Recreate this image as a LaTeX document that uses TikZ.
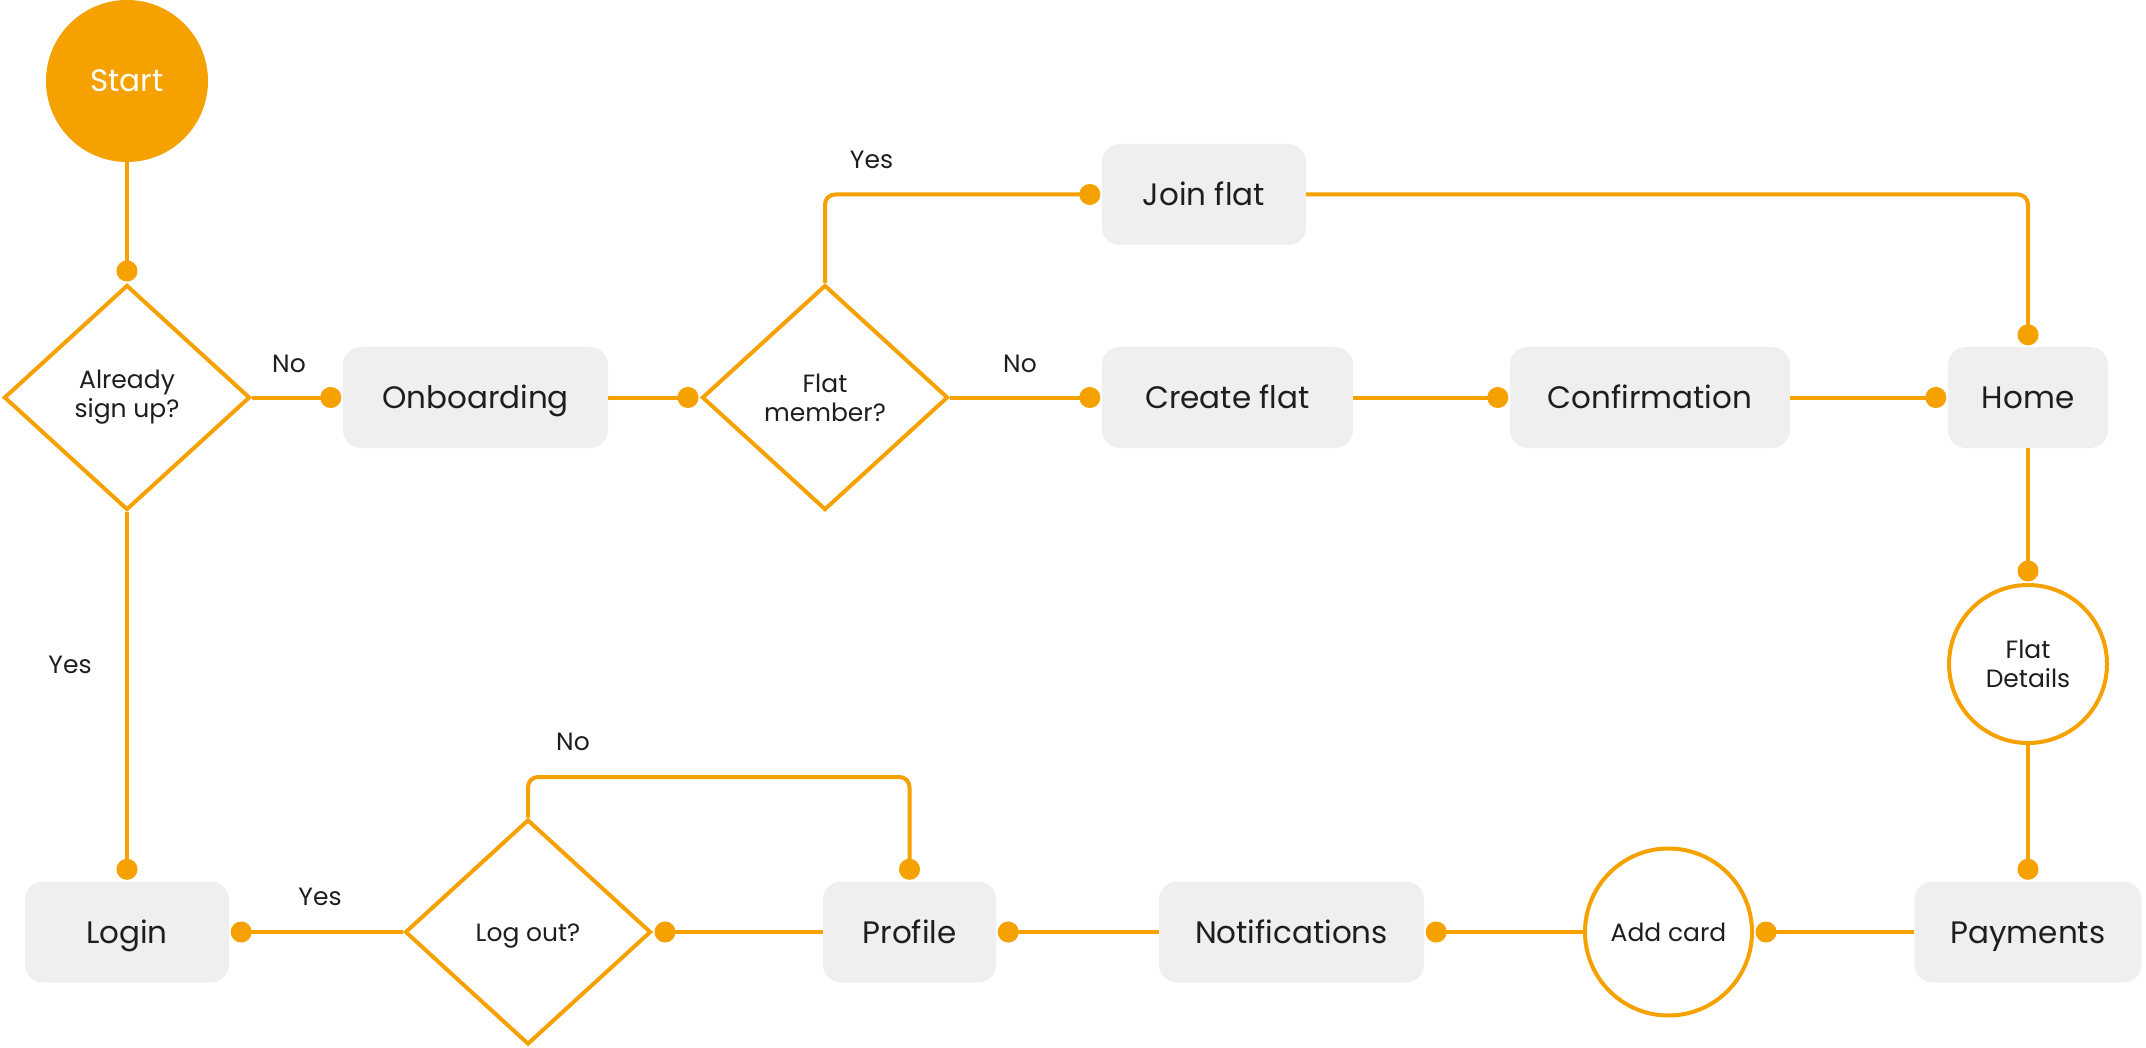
\documentclass[tikz,border=0pt]{standalone}
\usepackage{fontspec}
\setmainfont{Poppins}
\usetikzlibrary{shapes.geometric,arrows.meta}
\definecolor{org}{HTML}{F5A100}
\definecolor{boxfill}{HTML}{EFEFEF}
\definecolor{ink}{HTML}{1E1E1E}
\begin{document}
\begin{tikzpicture}[x=1pt,y=-1pt,
  box/.style={rectangle, rounded corners=18pt, fill=boxfill, minimum height=101pt, inner sep=0pt, text height=22pt, text depth=0pt, font=\fontsize{31}{36}\selectfont, text=ink},
  dia/.style={diamond, draw=org, line width=4pt, minimum width=246pt, minimum height=225pt, inner sep=0pt, align=center, font=\fontsize{25}{29}\selectfont, text=ink},
  ring/.style={circle, draw=org, line width=4pt, inner sep=0pt, align=center, font=\fontsize{25}{29}\selectfont, text=ink},
  conn/.style={draw=org, line width=4pt, -{Circle[length=21pt]}, shorten >=1.5pt, rounded corners=10pt},
  lbl/.style={font=\fontsize{25}{30}\selectfont, text=ink},
]
\useasboundingbox (0,0) rectangle (2146,1048);
% nodes
\node[circle, fill=org, minimum size=162pt, inner sep=0pt, text=white, font=\fontsize{31}{36}\selectfont] (start) at (127,81) {Start};
\node[dia] (already) at (127,397.5) {Already\\sign up?};
\node[box, minimum width=265pt] (onb) at (475.5,397.5) {Onboarding};
\node[dia] (member) at (825,397.5) {Flat\\member?};
\node[box, minimum width=204pt] (join) at (1204,194.5) {Join flat};
\node[box, minimum width=251pt] (create) at (1227.5,397.5) {Create flat};
\node[box, minimum width=280pt] (confirm) at (1650,397.5) {Confirmation};
\node[box, minimum width=160pt] (home) at (2028,397.5) {Home};
\node[ring, minimum size=158pt] (details) at (2028,664) {Flat\\Details};
\node[box, minimum width=227pt] (pay) at (2028,932) {Payments};
\node[ring, minimum size=167pt] (card) at (1668.5,932) {Add card};
\node[box, minimum width=265pt] (notif) at (1291.5,932) {Notifications};
\node[box, minimum width=173pt] (profile) at (909.5,932) {Profile};
\node[dia, text height=18pt, text depth=0pt] (logout) at (528,932) {Log out?};
\node[box, minimum width=204pt] (login) at (127,932) {Login};
\coordinate (loopc) at (528,777);
% connectors
\draw[conn] (start.south) -- (already.north);
\draw[conn] (already.east) -- (onb.west);
\draw[conn] (onb.east) -- (member.west);
\draw[conn] (member.north) |- (join.west);
\draw[conn] (join.east) -| (home.north);
\draw[conn] (member.east) -- (create.west);
\draw[conn] (create.east) -- (confirm.west);
\draw[conn] (confirm.east) -- (home.west);
\draw[conn] (home.south) -- (details.north);
\draw[conn] (details.south) -- (pay.north);
\draw[conn] (pay.west) -- (card.east);
\draw[conn] (card.west) -- (notif.east);
\draw[conn] (notif.west) -- (profile.east);
\draw[conn] (profile.west) -- (logout.east);
\draw[conn] (logout.north) -- (loopc) -| (profile.north);
\draw[conn] (logout.west) -- (login.east);
\draw[conn] (already.south) -- (login.north);
% labels
\node[lbl] (lno1) at (289,364) {No};
\node[lbl] (lno2) at (1020,364) {No};
\node[lbl] (lyes1) at (871.5,160) {Yes};
\node[lbl] (lyes2) at (70,665) {Yes};
\node[lbl] (lyes3) at (320,897) {Yes};
\node[lbl] (lno3) at (573,742) {No};
\end{tikzpicture}
\end{document}
